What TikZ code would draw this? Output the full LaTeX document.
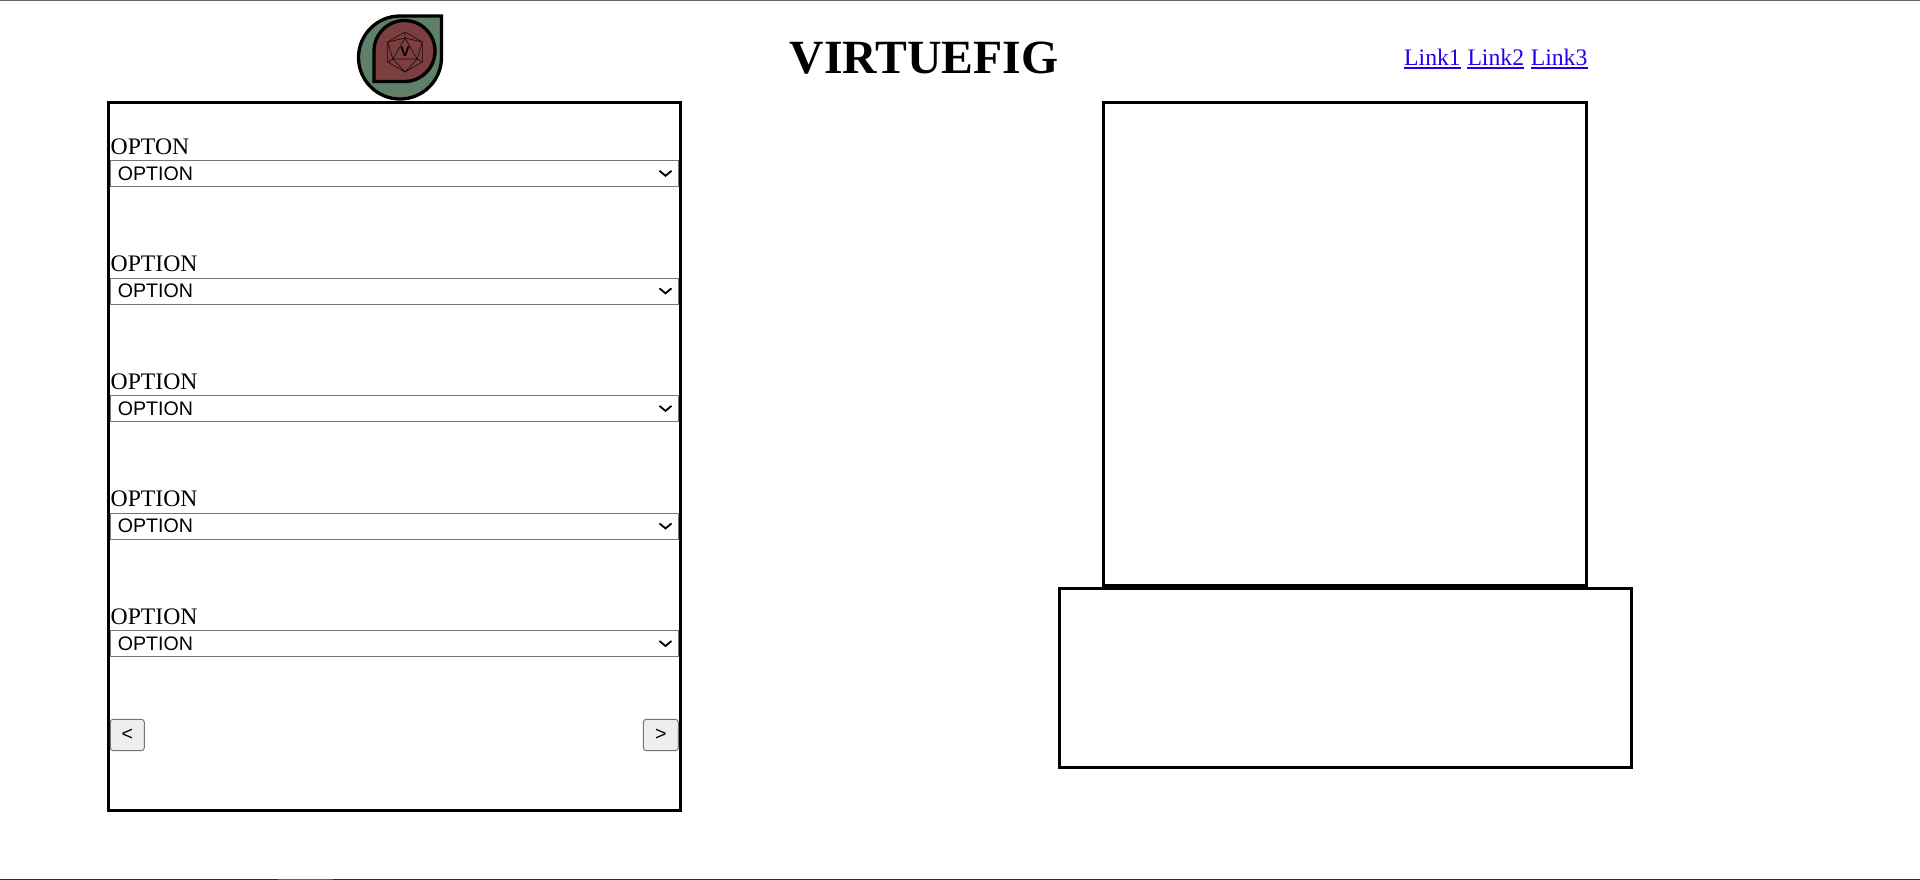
\documentclass[tikz,border=0pt]{standalone}
\usepackage{fontspec}
\setmainfont{Liberation Serif}
\newfontfamily\uifont{Liberation Sans}
\definecolor{logogreen}{HTML}{5F7F69}
\definecolor{logored}{HTML}{7C3E3F}
\definecolor{uigray}{HTML}{767676}
\definecolor{linkblue}{HTML}{2200EE}
\definecolor{barblack}{HTML}{22303A}
\tikzset{
  panel/.style={draw=black, line width=3bp, fill=white},
  labeltext/.style={anchor=base west, inner sep=0pt, font=\fontsize{23.7bp}{28bp}\selectfont},
  selectbox/.style={draw=uigray, line width=1bp, minimum width=568bp, minimum height=26bp, inner sep=0pt},
  selecttext/.style={anchor=base west, inner sep=0pt, font=\uifont\fontsize{19.6bp}{24bp}\selectfont},
  chevron/.style={draw=black, line width=1.8bp},
  pushbutton/.style={draw=uigray, line width=1bp, fill=black!6.5, rounded corners=3bp, minimum height=31.4bp, inner sep=0pt, font=\uifont\fontsize{19.6bp}{24bp}\selectfont},
  linktext/.style={anchor=base west, inner sep=0pt, text=linkblue, font=\fontsize{23.7bp}{28bp}\selectfont},
  linkline/.style={draw=linkblue, line width=2bp},
  icoline/.style={draw=black!85!logored, line width=0.6bp}
}

\begin{document}
\begin{tikzpicture}[x=1bp, y=1bp]

  \newcommand\Y{117.55}
  \newcommand\R{20}
  \newcommand\T{14}

  \useasboundingbox (0, 0) rectangle (1920, -880);
  \fill[white] (0, 0) rectangle (1920, -880);

  % window edges
  \fill[black!60] (0, 0) rectangle (1920, -1.4);
  \fill[barblack] (0, -879) rectangle (1920, -880);
  \fill[black!62] (278, -879) rectangle (333, -880);

  % logo
  \draw[fill=logogreen, line width=3.3bp, line join=miter] (400, -16) arc[start angle=90, end angle=360, radius=41.5] -- (441.5, -16) -- cycle;
  \draw[fill=logored, line width=3.3bp, line join=miter] (374, -51) arc[start angle=180, end angle=-90, radius=30.5] -- (374, -81.5) -- cycle;

  \coordinate (ico) at (405, -52);
  \draw[icoline] (ico) +(90:\R) -- +(30:\R) -- +(-30:\R) -- +(-90:\R) -- +(-150:\R) -- +(150:\R) -- cycle;
  \draw[icoline] (ico) +(90:\T) -- +(-30:\T) -- +(-150:\T) -- cycle;
  \draw[icoline] (ico) +(90:\R) -- +(90:\T) -- +(30:\R) -- +(-30:\T) -- +(-30:\R);
  \draw[icoline] (ico) +(-30:\T) -- +(-90:\R) -- +(-150:\T) -- +(-150:\R);
  \draw[icoline] (ico) +(-150:\T) -- +(150:\R) -- +(90:\T);
  \node[inner sep=0pt, font=\uifont\bfseries\fontsize{14bp}{14bp}\selectfont] (logoletter) at (405, -51.8) {V};

  % heading
  \node[anchor=base, inner sep=0pt, font=\bfseries\fontsize{47.7bp}{50bp}\selectfont] (heading) at (924, -73.5) {VIRTUEFIG};
  \node[linktext] (linkone) at (1404, -65.5) {Link1};
  \node[linktext] (linktwo) at (1467.3, -65.5) {Link2};
  \node[linktext] (linkthree) at (1530.6, -65.5) {Link3};
  \draw[linkline] ([yshift=-2.8bp]linkone.base west) -- ([yshift=-2.8bp]linkone.base east);
  \draw[linkline] ([yshift=-2.8bp]linktwo.base west) -- ([yshift=-2.8bp]linktwo.base east);
  \draw[linkline] ([yshift=-2.8bp]linkthree.base west) -- ([yshift=-2.8bp]linkthree.base east);

  % boxes
  \draw[panel] (108.5, -102.5) rectangle (680.5, -810.5);
  \draw[panel] (1103.5, -102.5) rectangle (1586.5, -585.5);
  \draw[panel] (1059.5, -588.5) rectangle (1631.5, -767.5);

  % options
  \node[labeltext] (optlabela) at (110.5, -154.3-0*\Y) {OPTON};
  \node[selectbox] (opta) at (394.5, -173.5-0*\Y) {};
  \node[selecttext] (opttexta) at (117.7, -180-0*\Y) {OPTION};
  \draw[chevron] (659.5, -170.8-0*\Y) -- (665.5, -175.8-0*\Y) -- (671.5, -170.8-0*\Y);

  \node[labeltext] (optlabelb) at (110.5, -154.3-1*\Y) {OPTION};
  \node[selectbox] (optb) at (394.5, -173.5-1*\Y) {};
  \node[selecttext] (opttextb) at (117.7, -180-1*\Y) {OPTION};
  \draw[chevron] (659.5, -170.8-1*\Y) -- (665.5, -175.8-1*\Y) -- (671.5, -170.8-1*\Y);

  \node[labeltext] (optlabelc) at (110.5, -154.3-2*\Y) {OPTION};
  \node[selectbox] (optc) at (394.5, -173.5-2*\Y) {};
  \node[selecttext] (opttextc) at (117.7, -180-2*\Y) {OPTION};
  \draw[chevron] (659.5, -170.8-2*\Y) -- (665.5, -175.8-2*\Y) -- (671.5, -170.8-2*\Y);

  \node[labeltext] (optlabeld) at (110.5, -154.3-3*\Y) {OPTION};
  \node[selectbox] (optd) at (394.5, -173.5-3*\Y) {};
  \node[selecttext] (opttextd) at (117.7, -180-3*\Y) {OPTION};
  \draw[chevron] (659.5, -170.8-3*\Y) -- (665.5, -175.8-3*\Y) -- (671.5, -170.8-3*\Y);

  \node[labeltext] (optlabele) at (110.5, -154.3-4*\Y) {OPTION};
  \node[selectbox] (opte) at (394.5, -173.5-4*\Y) {};
  \node[selecttext] (opttexte) at (117.7, -180-4*\Y) {OPTION};
  \draw[chevron] (659.5, -170.8-4*\Y) -- (665.5, -175.8-4*\Y) -- (671.5, -170.8-4*\Y);

  % buttons
  \node[pushbutton, minimum width=34bp] (prevbtn) at (127.3, -735) {\raisebox{-1.5bp}{<}};
  \node[pushbutton, minimum width=35bp] (nextbtn) at (660.8, -735) {\raisebox{-1.5bp}{>}};

\end{tikzpicture}
\end{document}
